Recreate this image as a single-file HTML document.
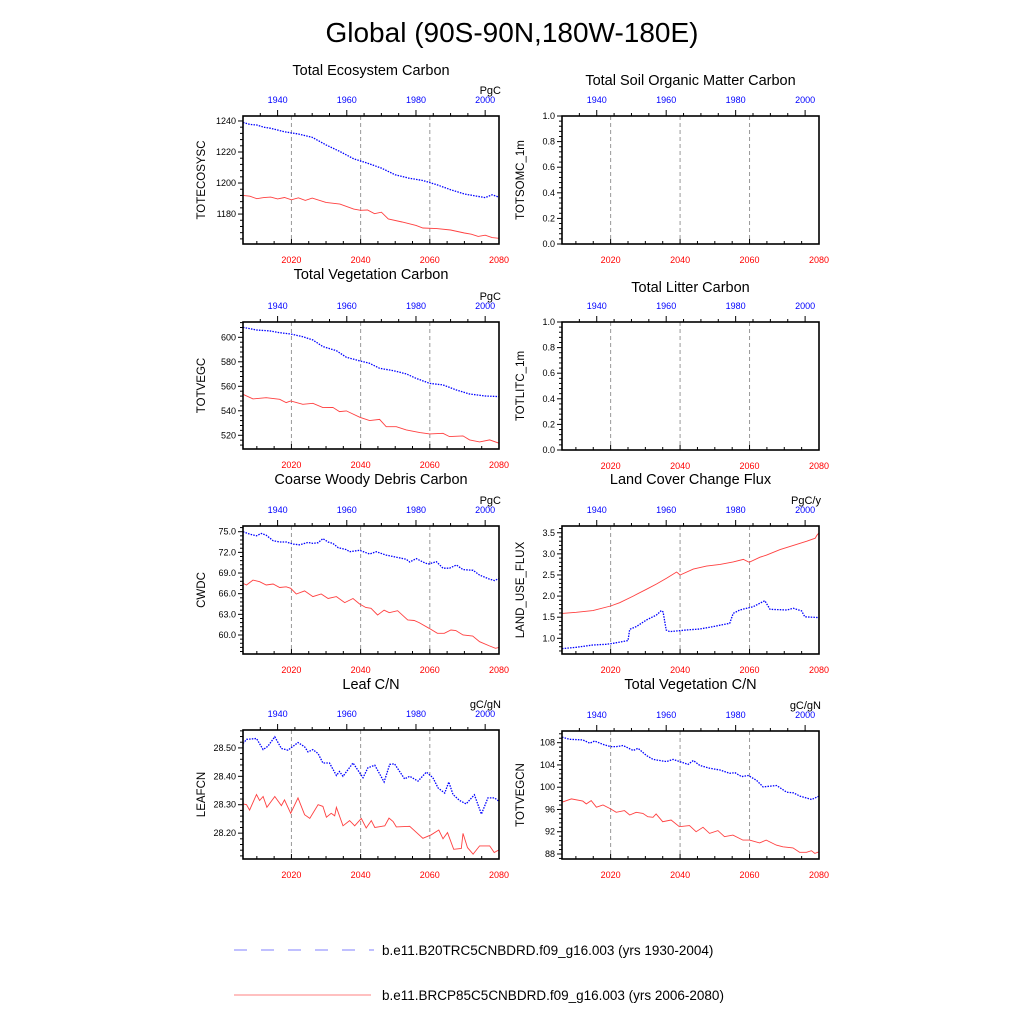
<!DOCTYPE html>
<html><head><meta charset="utf-8"><style>
body{margin:0;background:#fff;}
svg text{font-family:"Liberation Sans",sans-serif;}
</style></head><body>
<svg id="fig" width="1024" height="1024" viewBox="0 0 1024 1024" xmlns="http://www.w3.org/2000/svg">
<rect width="1024" height="1024" fill="#fff"/>
<text x="512" y="42" font-size="28" text-anchor="middle">Global (90S-90N,180W-180E)</text>
<g id="panels"></g>
<g>
<line x1="234" y1="950" x2="374" y2="950" stroke="#8080ff" stroke-width="1" stroke-dasharray="13,14"/>
<text x="382" y="955" font-size="13.5">b.e11.B20TRC5CNBDRD.f09_g16.003 (yrs 1930-2004)</text>
<line x1="234" y1="995" x2="371" y2="995" stroke="#ff8080" stroke-width="1"/>
<text x="382" y="1000" font-size="13.5">b.e11.BRCP85C5CNBDRD.f09_g16.003 (yrs 2006-2080)</text>
</g>
</svg>
<script>
// ---- data: historical (blue, 1930-2004) and future (red, 2006-2080) ----
const ecoHistYears=[1930,1932,1934,1936,1938,1942,1946,1950,1954,1958,1962,1966,1970,1974,1978,1982,1986,1990,1994,1998,2000,2002,2004];
const ecoHistVals=[1239.1,1237.8,1237.4,1236,1235.3,1233,1231.6,1229.5,1224.6,1220.3,1215.6,1212.8,1209.6,1205.3,1203.1,1201.6,1198.9,1195.7,1192.9,1191.4,1190.6,1192.4,1190.9];
const ecoFutYears=[2006,2008,2010,2012,2014,2016,2018,2020,2022,2024,2026,2030,2034,2038,2040,2042,2044,2046,2048,2052,2056,2058,2062,2066,2070,2072,2074,2076,2078,2080];
const ecoFutVals=[1192,1191.5,1189.9,1190.6,1190.9,1189.8,1190.7,1189.2,1190.5,1188.8,1190.3,1187.5,1186.4,1183.2,1182.4,1182.6,1180.2,1181.2,1176.8,1174.9,1172.7,1171,1170.6,1169.7,1167.8,1167,1165.6,1166.4,1164.8,1164.4];

const vegHistYears=[1930,1933.9,1937.7,1940.6,1943.8,1947.3,1950.2,1953.1,1957,1959.9,1963.8,1966.6,1969.5,1973.4,1977.2,1980,1984,1987.8,1991.7,1995.5,2000,2004];
const vegHistVals=[608.2,606,605.2,603.8,602.7,600.5,597.8,592.4,589.1,583.7,580.7,578.8,574.7,572.8,570.1,566.5,562.4,561.1,557,553.7,552.1,551.6];
const vegFutYears=[2006,2008.9,2012.7,2016.6,2018.5,2019.8,2023.3,2026.2,2029.1,2032,2033.9,2035.9,2039.8,2042.6,2045.5,2047.4,2050.3,2053.2,2057.1,2060,2063.8,2065.7,2069.6,2071.5,2074.4,2077.3,2080];
const vegFutVals=[553.5,549.7,550.7,549.4,546.7,548,545.3,546.1,542.6,542.8,539.3,539.9,534.7,532,533,527,527,524.4,522.2,521.1,521.6,518.9,519.5,516.2,514.6,516.2,513.5];

const cwdHistYears=[1930,1931.9,1933.9,1935.3,1936.7,1938.7,1940.6,1942.5,1944.5,1946.4,1948.8,1950.2,1951.7,1953.1,1954.6,1956,1957.5,1959.9,1960.8,1963.7,1966.6,1968.5,1971.4,1974.3,1977.2,1978.2,1980.1,1982,1983.5,1985.9,1987.8,1989.7,1991.7,1993.6,1996.5,1998.4,2001.3,2002.7,2004];
const cwdHistVals=[75,74.66,74.4,74.76,74.5,73.7,73.5,73.5,73.2,73.1,73.45,73.3,73.4,74,73.5,73.3,72.7,72.4,72.1,72.3,71.76,72.1,71.6,71.3,71,70.6,71.1,70.6,70.3,70.65,69.7,69.7,70.16,69.5,69.4,68.7,68.1,67.9,68.2];
const cwdFutYears=[2006,2007,2008.9,2010.8,2012.7,2014.7,2016.6,2018.5,2019.8,2021.4,2023.8,2026.2,2028.6,2030.6,2033,2035.4,2037.8,2039.7,2041.5,2043,2044.9,2046.8,2048.3,2050.7,2053.6,2055.5,2056.9,2059.8,2062.2,2064.2,2066.1,2067.5,2069.6,2072.4,2074.4,2077.3,2079,2080];
const cwdFutVals=[67.5,67.26,67.98,67.74,67.26,67.4,66.9,67,66.78,65.95,66.4,65.57,65.95,65.3,65.57,64.7,65.3,64.5,64,63.87,62.9,63.6,63.24,63.53,62.18,62.1,61.8,60.97,60.24,60.24,60.73,60.65,60,59.86,59.03,58.4,58.07,58.2];

const leafHistYears=[1930,1931,1933.9,1935.8,1937.2,1939.2,1941.1,1943,1945.9,1947.8,1948.8,1950.2,1951.7,1953.1,1955,1957,1957.9,1958.9,1961.8,1964.7,1966.1,1968.1,1970.8,1972.4,1973.8,1976.7,1978.2,1980.6,1983,1984.9,1986.4,1988.3,1989.5,1990.7,1992.6,1994.5,1996.9,1998.9,2000.8,2002.7,2004];
const leafHistVals=[28.515,28.53,28.533,28.494,28.506,28.539,28.498,28.492,28.519,28.504,28.486,28.494,28.48,28.447,28.447,28.403,28.417,28.4,28.447,28.395,28.43,28.439,28.38,28.442,28.444,28.391,28.4,28.383,28.415,28.395,28.359,28.341,28.38,28.336,28.315,28.303,28.335,28.267,28.324,28.324,28.312];
const leafFutYears=[2006,2007,2007.9,2009.9,2010.8,2011.8,2012.9,2015.2,2017.1,2018,2019.8,2021.9,2023.8,2025.3,2027.7,2029.1,2030.1,2031.5,2032.5,2033,2034.9,2036.8,2038.3,2040.2,2041.6,2043.1,2044.1,2047,2048.2,2049.4,2050.3,2054.2,2058,2060.4,2062.6,2063.8,2065.1,2066.9,2069.1,2069.6,2070.9,2072.5,2074.4,2077.3,2078.6,2080];
const leafFutVals=[28.303,28.3,28.281,28.336,28.315,28.329,28.291,28.329,28.297,28.317,28.27,28.324,28.265,28.252,28.3,28.294,28.256,28.27,28.261,28.291,28.226,28.244,28.226,28.252,28.218,28.244,28.22,28.226,28.253,28.241,28.222,28.224,28.182,28.194,28.211,28.18,28.202,28.143,28.146,28.199,28.149,28.126,28.155,28.155,28.132,28.141];

const lucFutYears=[2006,2010.1,2014.9,2020,2022.6,2026.5,2030.3,2033.2,2036.1,2039,2040,2043.8,2047.6,2051.5,2055.3,2058.2,2059.9,2063,2064.9,2068.8,2072.6,2076.5,2078.9,2079.4,2080];
const lucFutVals=[1.59,1.615,1.655,1.765,1.844,2.0,2.16,2.285,2.42,2.57,2.5,2.64,2.71,2.75,2.81,2.87,2.8,2.92,2.97,3.1,3.2,3.3,3.37,3.44,3.5];
const lucHistYears=[1930,1934.1,1938.9,1942.8,1944.7,1949,1949.5,1951.4,1954.3,1957.2,1958.6,1959.1,1960,1961,1965.8,1969.7,1973.5,1978.3,1979.3,1981.2,1985.1,1988.4,1989.9,1994.7,1996.6,1999,1999.9,2004];
const lucHistVals=[0.756,0.787,0.842,0.858,0.882,0.945,1.213,1.276,1.434,1.552,1.655,1.623,1.197,1.158,1.197,1.22,1.276,1.355,1.59,1.67,1.75,1.89,1.686,1.67,1.71,1.65,1.51,1.49];

const vcnHistYears=[1930,1932.2,1936,1938,1939.4,1941.8,1944,1945.7,1947.6,1950.5,1951.9,1954.3,1956.2,1960.1,1962,1964.4,1966.3,1967.8,1969.7,1972.6,1975.5,1978.3,1979.8,1981.7,1983.6,1986,1987.9,1991.8,1994.7,1996.6,1998.5,2001.9,2004];
const vcnHistVals=[109,108.6,108.5,107.9,108.3,107.7,107.3,107.3,107.5,106.6,107,105.7,105,104.6,105,104.5,104.1,104.8,103.9,103.4,103.1,102.5,102.6,101.9,102.1,101.25,100.05,100.3,99.1,99,98.4,97.8,98.4];
const vcnFutYears=[2006,2008.7,2012,2013,2014.4,2015.9,2017.8,2020,2021.6,2024,2025.5,2027.4,2029.3,2030.7,2032.2,2033.1,2035,2037.4,2039.8,2042.7,2044.6,2046.6,2048.5,2050.9,2052.8,2055.2,2058.1,2060,2062.9,2064.8,2067.7,2069.6,2072.5,2074.4,2076.4,2077.8,2078.8,2080];
const vcnFutVals=[97.3,97.9,97.5,97,97.6,96.4,96.8,96.1,95.5,95.8,95,95.5,95.3,94.7,94.6,95.2,93.8,94.1,92.9,93.1,92,92.8,91.7,92.2,91.1,91.4,90.5,90.5,90,90.5,89.6,89.3,89.1,88.3,88.3,88.6,88.1,88.4];

// ---- layout (not data) ----
const panels=[
 {id:'total-ecosystem-carbon',title:'Total Ecosystem Carbon',ty:75,units:'PgC',yl:'TOTECOSYSC',x:243,y:116,w:256,h:128,y0:1160.7,y1:1243.2,maj:20,min:4,dec:0,hy:ecoHistYears,hv:ecoHistVals,fy:ecoFutYears,fv:ecoFutVals},
 {id:'total-soil-organic-matter-carbon',title:'Total Soil Organic Matter Carbon',ty:85,units:'',yl:'TOTSOMC_1m',x:562,y:116,w:257,h:128,y0:0,y1:1,maj:0.2,min:0.04,dec:1},
 {id:'total-vegetation-carbon',title:'Total Vegetation Carbon',ty:279,units:'PgC',yl:'TOTVEGC',x:243,y:322,w:256,h:127,y0:508.8,y1:612.5,maj:20,min:4,dec:0,hy:vegHistYears,hv:vegHistVals,fy:vegFutYears,fv:vegFutVals},
 {id:'total-litter-carbon',title:'Total Litter Carbon',ty:292,units:'',yl:'TOTLITC_1m',x:562,y:322,w:257,h:128,y0:0,y1:1,maj:0.2,min:0.04,dec:1},
 {id:'coarse-woody-debris-carbon',title:'Coarse Woody Debris Carbon',ty:484,units:'PgC',yl:'CWDC',x:243,y:526,w:256,h:128,y0:57.24,y1:75.83,maj:3,min:0.6,dec:1,hy:cwdHistYears,hv:cwdHistVals,fy:cwdFutYears,fv:cwdFutVals},
 {id:'land-cover-change-flux',title:'Land Cover Change Flux',ty:484,units:'PgC/y',yl:'LAND_USE_FLUX',x:562,y:526,w:257,h:128,y0:0.628,y1:3.66,maj:0.5,min:0.1,dec:1,hy:lucHistYears,hv:lucHistVals,fy:lucFutYears,fv:lucFutVals},
 {id:'leaf-cn',title:'Leaf C/N',ty:689,units:'gC/gN',yl:'LEAFCN',x:243,y:730,w:256,h:129,y0:28.109,y1:28.563,maj:0.1,min:0.02,dec:2,hy:leafHistYears,hv:leafHistVals,fy:leafFutYears,fv:leafFutVals},
 {id:'total-vegetation-cn',title:'Total Vegetation C/N',ty:689,units:'gC/gN',yl:'TOTVEGCN',x:562,y:731,w:257,h:128,y0:87.1,y1:110.1,maj:4,min:0.8,dec:0,hy:vcnHistYears,hv:vcnHistVals,fy:vcnFutYears,fv:vcnFutVals}
];

const NS='http://www.w3.org/2000/svg';
const root=document.getElementById('panels');
function mk(tag,attrs,parent,txt){const e=document.createElementNS(NS,tag);for(const k in attrs)e.setAttribute(k,attrs[k]);if(txt!==undefined)e.textContent=txt;parent.appendChild(e);return e;}

panels.forEach(p=>{
 const g=mk('g',{},root);
 
 
 const xB=yr=>p.x+(yr-2006)/74*p.w;
 const xT=yr=>p.x+(yr-1930)/74*p.w;
 const yS=v=>p.y+p.h-(v-p.y0)/(p.y1-p.y0)*p.h;
 const cx=p.x+p.w/2;
 const t=mk('text',{x:cx,y:p.ty,'font-size':14.5,'text-anchor':'middle'},g,p.title);
 
 
 if(p.units){const u=mk('text',{x:p.x+p.w+2,y:p.y-22,'font-size':11,'text-anchor':'end'},g,p.units);
  
  }
 [2020,2040,2060].forEach(yr=>{const l=mk('line',{x1:xB(yr),x2:xB(yr),y1:p.y,y2:p.y+p.h,stroke:'#999','stroke-width':1,'stroke-dasharray':'4,3'},g);
  
  });
 for(let yr=2010;yr<=2080;yr+=5){mk('line',{x1:xB(yr),x2:xB(yr),y1:p.y+p.h,y2:p.y+p.h-(yr%20==0?5:3),stroke:'#000','stroke-width':1},g);}
 [2020,2040,2060,2080].forEach(yr=>{const l=mk('text',{x:xB(yr),y:p.y+p.h+19,'font-size':9,fill:'#ff0000','text-anchor':'middle'},g,String(yr));
  
  });
 for(let yr=1935;yr<=2000;yr+=5){mk('line',{x1:xT(yr),x2:xT(yr),y1:p.y,y2:p.y-(yr%20==0?6:3),stroke:'#000','stroke-width':1},g);}
 [1940,1960,1980,2000].forEach(yr=>{const l=mk('text',{x:xT(yr),y:p.y-13,'font-size':9,fill:'#0000ff','text-anchor':'middle'},g,String(yr));
  
  });
 const eps=1e-9;
 for(let v=Math.ceil(p.y0/p.min-eps)*p.min;v<=p.y1+eps;v+=p.min){
  const isMaj=Math.abs(v/p.maj-Math.round(v/p.maj))<1e-6;
  const yy=yS(v);
  mk('line',{x1:p.x,x2:p.x-(isMaj?5:3),y1:yy,y2:yy,stroke:'#000','stroke-width':1},g);
  if(isMaj){const l=mk('text',{x:p.x-7,y:yy+3,'font-size':9,'text-anchor':'end'},g,(Math.round(v/p.maj)*p.maj).toFixed(p.dec));
   
   }
 }
 const yl=mk('text',{x:0,y:0,'font-size':11.5,'text-anchor':'middle',transform:`translate(${p.x-38},${p.y+p.h/2}) rotate(-90)`},g,p.yl);
 
 
 if(p.hy){
  const pf=p.fy.map((yr,i)=>xB(yr).toFixed(1)+','+yS(p.fv[i]).toFixed(1)).join(' ');
  const l2=mk('polyline',{points:pf,fill:'none',stroke:'#ff4040','stroke-width':0.9},g);
  
  
  const ph=p.hy.map((yr,i)=>xT(yr).toFixed(1)+','+yS(p.hv[i]).toFixed(1)).join(' ');
  const l1=mk('polyline',{points:ph,fill:'none',stroke:'#0000ff','stroke-width':1.3,'stroke-dasharray':'1.5,1.2'},g);
  
  
 }
 const box=mk('rect',{x:p.x,y:p.y,width:p.w,height:p.h,fill:'none',stroke:'#000','stroke-width':1.6},g);
 
 
});
</script>
</body></html>
